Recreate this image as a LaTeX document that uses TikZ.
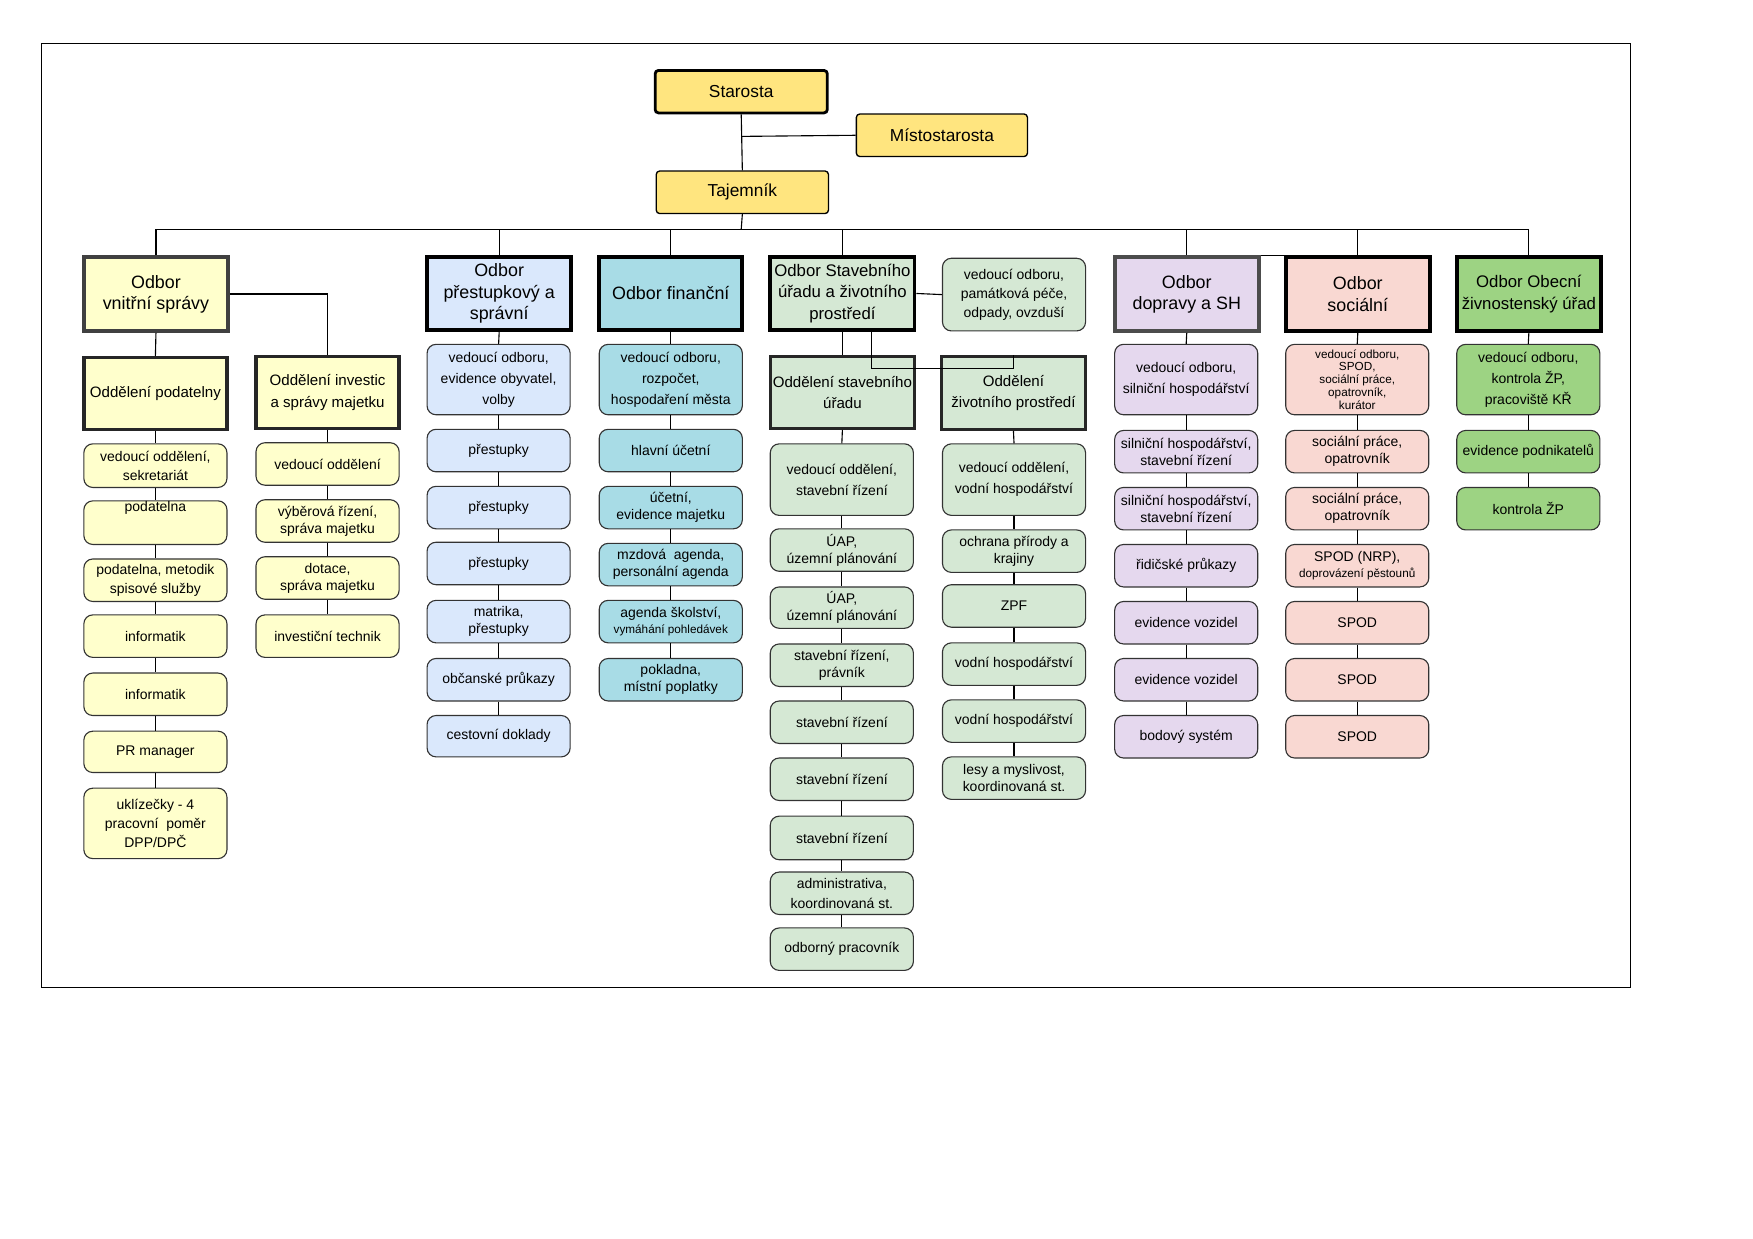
\documentclass[tikz,border=0pt]{standalone}
\usepackage{fontspec}
\setmainfont{Liberation Sans}
\begin{document}
\begin{tikzpicture}[x=1pt,y=-1pt,
  base/.style={draw=black!80,line width=1pt,align=center,inner sep=0pt,font=\fontsize{12.5}{17}\selectfont},
  sm/.style={base,rounded corners=8pt},
  head/.style={base,line width=3.5pt,draw=black,font=\fontsize{16}{19}\selectfont},
  dep/.style={base,line width=3pt,draw=black!85,font=\fontsize{13.5}{19}\selectfont},
  top/.style={base,fill=ytop,line width=1.2pt,draw=black,rounded corners=3pt,font=\fontsize{15.5}{18}\selectfont},
  con/.style={line width=1pt,draw=black}]
\definecolor{ytop}{HTML}{FFE57F}
\definecolor{ylw}{HTML}{FFFFCC}
\definecolor{blu}{HTML}{DAE8FC}
\definecolor{cya}{HTML}{A8DCE6}
\definecolor{grn}{HTML}{D5E8D4}
\definecolor{pur}{HTML}{E5D8EE}
\definecolor{pnk}{HTML}{F9D8D2}
\definecolor{obg}{HTML}{9DD383}
\newcommand\bx[7]{\node[#6,minimum width={(#4-#2)*1pt},minimum height={(#5-#3)*1pt}] (#1) at ({(#2+#4)/2},{(#3+#5)/2}) {#7};}
\useasboundingbox (0,0) rectangle (1568,1108);
\draw[line width=0.8pt] (37,39) rectangle (1458,883);
% top
\bx{sta}{586}{63}{740}{101}{top,line width=2.5pt}{Starosta}
\bx{mis}{766}{102}{919}{140}{top}{Místostarosta}
\bx{tj}{587}{153}{741}{191}{top}{Tajemník}
\coordinate (bus) at (663,205);
\coordinate (mj) at (663,122);
% heads
\bx{vs}{75}{230}{204}{296}{head,fill=ylw,draw=black!75}{Odbor\\vnitřní správy}
\bx{pr}{382}{230}{511}{295}{head,fill=blu}{Odbor\\přestupkový a\\správní}
\bx{fi}{536}{230}{664}{295}{head,fill=cya}{Odbor finanční}
\bx{st}{689}{230}{818}{295}{head,fill=grn,font=\fontsize{15}{19}\selectfont}{Odbor Stavebního\\úřadu a životního\\prostředí}
\bx{pm}{843}{231}{971}{296}{sm,fill=grn}{vedoucí odboru,\\památková péče,\\odpady, ovzduší}
\bx{dp}{997}{230}{1126}{296}{head,fill=pur,draw=black!70}{Odbor\\dopravy a SH}
\bx{so}{1150}{230}{1279}{296}{head,fill=pnk}{Odbor\\sociální}
\bx{ob}{1303}{230}{1432}{296}{head,fill=obg,font=\fontsize{15}{19}\selectfont}{Odbor Obecní\\živnostenský úřad}
% departments
\bx{op}{75}{320}{203}{384}{dep,fill=ylw}{Oddělení podatelny}
\bx{oi}{229}{319}{357}{383}{dep,fill=ylw}{Oddělení investic\\a správy majetku}
\bx{os}{689}{319}{818}{383}{dep,fill=grn}{Oddělení stavebního\\úřadu}
\bx{oz}{842}{319}{971}{384}{dep,fill=grn}{Oddělení\\životního prostředí}
% col 139
\bx{ya1}{75}{397}{203}{436}{sm,fill=ylw}{vedoucí oddělení,\\sekretariát}
\bx{ya2}{75}{448}{203}{487}{sm,fill=ylw}{podatelna\\[12pt]}
\bx{ya3}{75}{500}{203}{538}{sm,fill=ylw}{podatelna, metodik\\spisové služby}
\bx{ya4}{75}{550}{203}{588}{sm,fill=ylw}{informatik}
\bx{ya5}{75}{602}{203}{640}{sm,fill=ylw}{informatik}
\bx{ya6}{75}{654}{203}{691}{sm,fill=ylw}{PR manager}
\bx{ya7}{75}{705}{203}{768}{sm,fill=ylw}{uklízečky - 4\\pracovní\ \ poměr\\DPP/DPČ}
% col 293
\bx{yb1}{229}{396}{357}{434}{sm,fill=ylw}{vedoucí oddělení}
\bx{yb2}{229}{447}{357}{485}{sm,fill=ylw,font=\fontsize{12.5}{15}\selectfont}{výběrová řízení,\\správa majetku}
\bx{yb3}{229}{498}{357}{536}{sm,fill=ylw,font=\fontsize{12.5}{15}\selectfont}{dotace,\\správa majetku}
\bx{yb4}{229}{550}{357}{588}{sm,fill=ylw}{investiční technik}
% col 446
\bx{b1}{382}{308}{510}{371}{sm,fill=blu,font=\fontsize{12.5}{19}\selectfont}{vedoucí odboru,\\evidence obyvatel,\\volby}
\bx{b2}{382}{384}{510}{422}{sm,fill=blu}{přestupky}
\bx{b3}{382}{435}{510}{473}{sm,fill=blu}{přestupky}
\bx{b4}{382}{485}{510}{523}{sm,fill=blu}{přestupky}
\bx{b5}{382}{537}{510}{575}{sm,fill=blu,font=\fontsize{12.5}{15}\selectfont}{matrika,\\přestupky}
\bx{b6}{382}{589}{510}{627}{sm,fill=blu}{občanské průkazy}
\bx{b7}{382}{640}{510}{677}{sm,fill=blu}{cestovní doklady}
% col 600
\bx{c1}{536}{308}{664}{371}{sm,fill=cya,font=\fontsize{12.5}{19}\selectfont}{vedoucí odboru,\\rozpočet,\\hospodaření města}
\bx{c2}{536}{384}{664}{422}{sm,fill=cya}{hlavní účetní}
\bx{c3}{536}{435}{664}{473}{sm,fill=cya,font=\fontsize{12.5}{15}\selectfont}{účetní,\\evidence majetku}
\bx{c4}{536}{486}{664}{524}{sm,fill=cya,font=\fontsize{12.5}{15}\selectfont}{mzdová\ \ agenda,\\personální agenda}
\bx{c5}{536}{537}{664}{575}{sm,fill=cya,font=\fontsize{12.5}{15}\selectfont}{agenda školství,\\{\fontsize{10.5}{13}\selectfont vymáhání pohledávek}}
\bx{c6}{536}{589}{664}{627}{sm,fill=cya,font=\fontsize{12.5}{15}\selectfont}{pokladna,\\místní poplatky}
% col 753
\bx{g1}{689}{397}{817}{461}{sm,fill=grn,font=\fontsize{12.5}{19}\selectfont}{vedoucí oddělení,\\stavební řízení}
\bx{g2}{689}{473}{817}{511}{sm,fill=grn,font=\fontsize{12.5}{15}\selectfont}{ÚAP,\\územní plánování}
\bx{g3}{689}{525}{817}{562}{sm,fill=grn,font=\fontsize{12.5}{15}\selectfont}{ÚAP,\\územní plánování}
\bx{g4}{689}{576}{817}{614}{sm,fill=grn,font=\fontsize{12.5}{15}\selectfont}{stavební řízení,\\právník}
\bx{g5}{689}{627}{817}{665}{sm,fill=grn}{stavební řízení}
\bx{g6}{689}{678}{817}{716}{sm,fill=grn}{stavební řízení}
\bx{g7}{689}{730}{817}{769}{sm,fill=grn}{stavební řízení}
\bx{g8}{689}{780}{817}{818}{sm,fill=grn,font=\fontsize{12.5}{18}\selectfont}{administrativa,\\koordinovaná st.}
\bx{g9}{689}{830}{817}{868}{sm,fill=grn}{odborný pracovník}
% col 907
\bx{h1}{843}{397}{971}{461}{sm,fill=grn,font=\fontsize{12.5}{19}\selectfont}{vedoucí oddělení,\\vodní hospodářství}
\bx{h2}{843}{474}{971}{512}{sm,fill=grn,font=\fontsize{12.5}{15}\selectfont}{ochrana přírody a\\krajiny}
\bx{h3}{843}{523}{971}{561}{sm,fill=grn}{ZPF}
\bx{h4}{843}{575}{971}{613}{sm,fill=grn}{vodní hospodářství}
\bx{h5}{843}{626}{971}{664}{sm,fill=grn}{vodní hospodářství}
\bx{h6}{843}{677}{971}{715}{sm,fill=grn,font=\fontsize{12.5}{15}\selectfont}{lesy a myslivost,\\koordinovaná st.}
% col 1061
\bx{p1}{997}{308}{1125}{371}{sm,fill=pur,font=\fontsize{12.5}{19}\selectfont}{vedoucí odboru,\\silniční hospodářství}
\bx{p2}{997}{385}{1125}{423}{sm,fill=pur,font=\fontsize{12.5}{15}\selectfont}{silniční hospodářství,\\stavební řízení}
\bx{p3}{997}{436}{1125}{474}{sm,fill=pur,font=\fontsize{12.5}{15}\selectfont}{silniční hospodářství,\\stavební řízení}
\bx{p4}{997}{487}{1125}{525}{sm,fill=pur}{řidičské průkazy}
\bx{p5}{997}{538}{1125}{576}{sm,fill=pur}{evidence vozidel}
\bx{p6}{997}{589}{1125}{627}{sm,fill=pur}{evidence vozidel}
\bx{p7}{997}{640}{1125}{678}{sm,fill=pur}{bodový systém}
% col 1214
\bx{r1}{1150}{308}{1278}{371}{sm,fill=pnk,font=\fontsize{10.5}{11.5}\selectfont}{vedoucí odboru,\\SPOD,\\sociální práce,\\opatrovník,\\kurátor}
\bx{r2}{1150}{385}{1278}{423}{sm,fill=pnk,font=\fontsize{12.5}{15}\selectfont}{sociální práce,\\opatrovník}
\bx{r3}{1150}{436}{1278}{474}{sm,fill=pnk,font=\fontsize{12.5}{15}\selectfont}{sociální práce,\\opatrovník}
\bx{r4}{1150}{487}{1278}{525}{sm,fill=pnk,font=\fontsize{12.5}{15}\selectfont}{SPOD (NRP),\\{\fontsize{10.5}{13}\selectfont doprovázení pěstounů}}
\bx{r5}{1150}{538}{1278}{576}{sm,fill=pnk}{SPOD}
\bx{r6}{1150}{589}{1278}{627}{sm,fill=pnk}{SPOD}
\bx{r7}{1150}{640}{1278}{678}{sm,fill=pnk}{SPOD}
% col 1367
\bx{e1}{1303}{308}{1431}{371}{sm,fill=obg,font=\fontsize{12.5}{19}\selectfont}{vedoucí odboru,\\kontrola ŽP,\\pracoviště KŘ}
\bx{e2}{1303}{385}{1431}{423}{sm,fill=obg}{evidence podnikatelů}
\bx{e3}{1303}{436}{1431}{474}{sm,fill=obg}{kontrola ŽP}
% connectors
\draw[con] (sta.south) -- (tj.north);
\draw[con] (mj) -- (mis.west);
\draw[con] (tj.south) -- (bus);
\foreach \h in {vs,pr,fi,st,dp,so,ob} {\draw[con] (\h.north) |- (bus);}
\draw[con] (st.east) -- (pm.west);
\draw[con] (dp.north east) -- (so.north west);
\draw[con] (vs.east) -| (oi.north);
\draw[con] (vs.south) -- (op.north);
\draw[con] (op.south) -- (ya1.north);
\draw[con] (oi.south) -- (yb1.north);
\draw[con] (pr.south) -- (b1.north);
\draw[con] (fi.south) -- (c1.north);
\draw[con] (st.south) -- (os.north);
\draw[con] ([xshift=26pt]st.south) |- ([yshift=-12pt]oz.north) -- (oz.north);
\draw[con] (os.south) -- (g1.north);
\draw[con] (oz.south) -- (h1.north);
\draw[con] (dp.south) -- (p1.north);
\draw[con] (so.south) -- (r1.north);
\draw[con] (ob.south) -- (e1.north);
\foreach \c/\n in {ya/6,yb/3,b/6,c/5,g/8,h/5,p/6,r/6,e/2} {
  \foreach \i in {1,...,\n} {
    \pgfmathtruncatemacro\j{\i+1}
    \draw[con] (\c\i.south) -- (\c\j.north);
  }
}
\end{tikzpicture}
\end{document}
